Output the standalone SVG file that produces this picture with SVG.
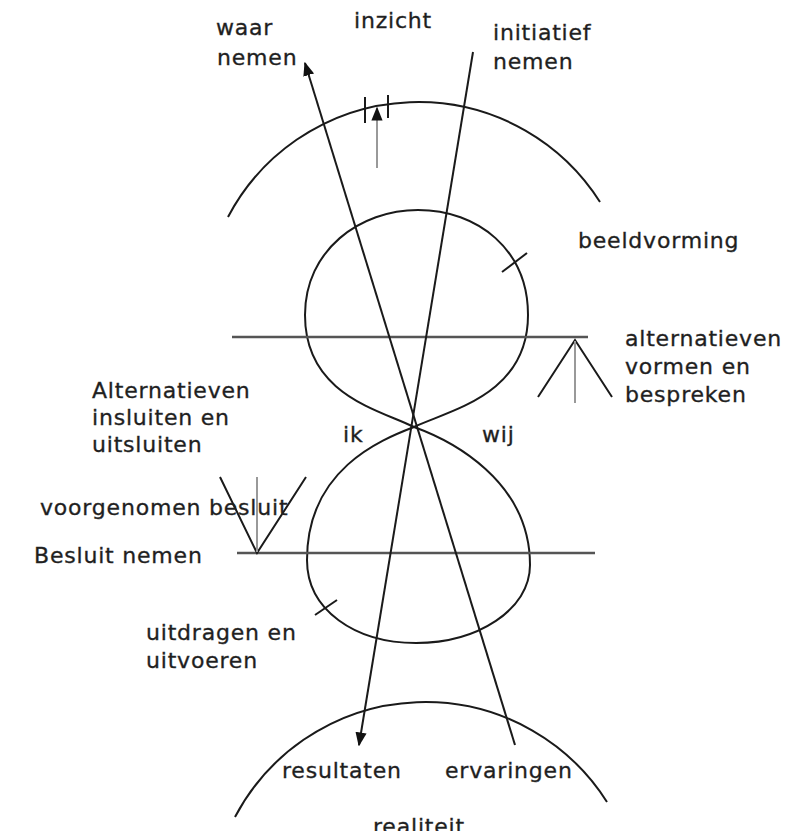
<svg xmlns="http://www.w3.org/2000/svg" width="811" height="831" viewBox="0 0 811 831">
<defs>
<style>
text{font-family:"DejaVu Sans","Liberation Sans",sans-serif;font-size:22px;letter-spacing:0.8px;fill:#1e1e1e;stroke:#2a2a2a;stroke-width:0.35px}
.ln{fill:none;stroke:#1a1a1a;stroke-width:2}
.hz{fill:none;stroke:#555;stroke-width:2.5}
.gr{fill:none;stroke:#999;stroke-width:2}
</style>
<marker id="ahb" viewBox="0 0 10 10" refX="9" refY="5" markerWidth="14" markerHeight="14" markerUnits="userSpaceOnUse" orient="auto">
<path d="M0,1 L10,5 L0,9 Z" fill="#111"/>
</marker>
</defs>
<rect width="811" height="831" fill="#fff"/>
<g id="shapes">
<path id="top-arc" class="ln" d="M228,217 A215,215 0 0 1 600,202"/>
<path id="bottom-arc" class="ln" d="M235,817 A215,215 0 0 1 607,802"/>
<path id="upper-lobe" class="ln" d="M414,427 C380,410 305,395 305,315 C305,250 360,210 418,210 C478,210 528,250 528,315 C528,395 450,410 414,427 Z"/>
<path id="lower-lobe" class="ln" d="M414,427 C380,440 307,470 307,560 C307,610 355,643 416,643 C477,643 530,610 530,565 C530,480 450,440 414,427 Z"/>
</g>
<g id="connectors">
<line class="hz" x1="232" y1="337" x2="588" y2="337"/>
<line class="hz" x1="237" y1="553" x2="595" y2="553"/>
<line class="ln" x1="515" y1="745" x2="305" y2="63" marker-end="url(#ahb)"/>
<line class="ln" x1="473" y1="52" x2="359" y2="745" marker-end="url(#ahb)"/>
<line class="gr" x1="377" y1="168" x2="377" y2="108" marker-end="url(#ahb)"/>
<line class="ln" x1="365" y1="97" x2="365" y2="123"/>
<line class="ln" x1="388" y1="95" x2="388" y2="118"/>
<line class="ln" x1="502" y1="272" x2="527" y2="253"/>
<line class="ln" x1="315" y1="615" x2="337" y2="600"/>
<polyline class="ln" points="538,397 575,340 612,397"/>
<line class="gr" x1="575" y1="341" x2="575" y2="403"/>
<polyline class="ln" points="220,477 257,553 306,477"/>
<line class="gr" x1="257" y1="552" x2="257" y2="477"/>
</g>
<g id="labels">
<g id="waar-nemen"><text x="216" y="35">waar</text><text x="217" y="65">nemen</text></g>
<g id="inzicht"><text x="354" y="28">inzicht</text></g>
<g id="initiatief-nemen"><text x="493" y="40">initiatief</text><text x="493" y="69">nemen</text></g>
<g id="beeldvorming"><text x="578" y="248">beeldvorming</text></g>
<g id="alternatieven-vormen"><text x="625" y="346">alternatieven</text><text x="625" y="374">vormen en</text><text x="625" y="402">bespreken</text></g>
<g id="alternatieven-insluiten"><text x="92" y="398">Alternatieven</text><text x="92" y="425">insluiten en</text><text x="92" y="452">uitsluiten</text></g>
<g id="ik"><text x="343" y="442">ik</text></g>
<g id="wij"><text x="482" y="442">wij</text></g>
<g id="voorgenomen"><text x="40" y="515">voorgenomen besluit</text></g>
<g id="besluit-nemen"><text x="34" y="563">Besluit nemen</text></g>
<g id="uitdragen"><text x="146" y="640">uitdragen en</text><text x="146" y="668">uitvoeren</text></g>
<g id="resultaten"><text x="282" y="778">resultaten</text></g>
<g id="ervaringen"><text x="445" y="778">ervaringen</text></g>
<g id="realiteit"><text x="373" y="834">realiteit</text></g>
</g>
</svg>
